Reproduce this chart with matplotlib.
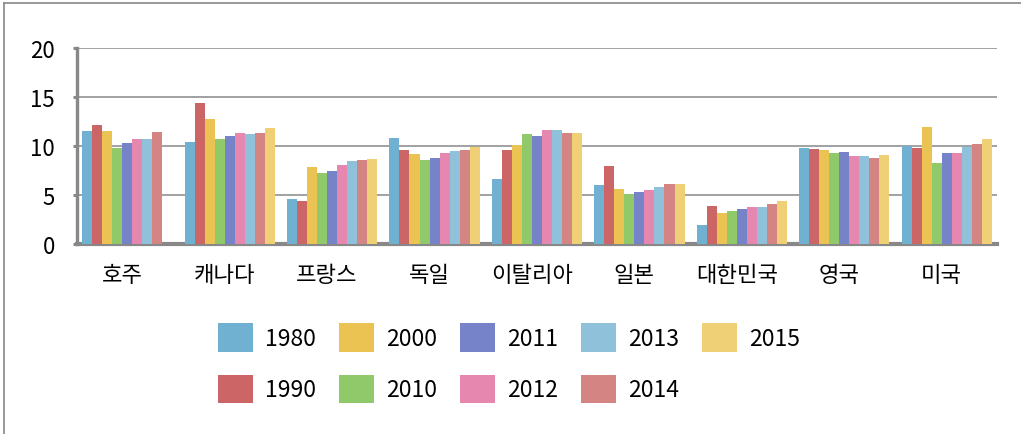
import matplotlib.pyplot as plt
import numpy as np
from matplotlib.lines import Line2D

plt.rcParams['font.family'] = ['Noto Sans CJK KR', 'DejaVu Sans']

countries = ['호주', '캐나다', '프랑스', '독일', '이탈리아', '일본', '대한민국', '영국', '미국']
years = ['1980', '1990', '2000', '2010', '2011', '2012', '2013', '2014', '2015']

# values per year, one per country (호주 has no 2015 value)
v1980 = [11.5, 10.4, 4.6, 10.8, 6.6, 6.0, 1.9, 9.8, 10.0]
v1990 = [12.1, 14.4, 4.4, 9.6, 9.6, 8.0, 3.9, 9.7, 9.8]
v2000 = [11.5, 12.8, 7.9, 9.2, 10.1, 5.6, 3.2, 9.6, 11.9]
v2010 = [9.8, 10.7, 7.2, 8.6, 11.2, 5.1, 3.4, 9.3, 8.3]
v2011 = [10.3, 11.0, 7.4, 8.8, 11.0, 5.3, 3.6, 9.4, 9.3]
v2012 = [10.7, 11.3, 8.1, 9.3, 11.6, 5.5, 3.8, 9.0, 9.3]
v2013 = [10.7, 11.2, 8.5, 9.5, 11.6, 5.8, 3.8, 9.0, 9.9]
v2014 = [11.4, 11.3, 8.6, 9.6, 11.3, 6.1, 4.1, 8.8, 10.2]
v2015 = [np.nan, 11.8, 8.7, 9.9, 11.3, 6.1, 4.4, 9.1, 10.7]
series = [v1980, v1990, v2000, v2010, v2011, v2012, v2013, v2014, v2015]

colors = ['#70B0D0', '#CC6666', '#EBC352', '#90C96A', '#7683C8',
          '#E687B0', '#90C1DA', '#D58484', '#EFD077']

grey = '#888888'

fig = plt.figure(figsize=(10.21, 4.35), dpi=100)
ax = fig.add_axes([0.0754, 0.4368, 0.9011, 0.4506])

x = np.arange(len(countries))
w = 0.0978
handles = []
for k, (vals, c) in enumerate(zip(series, colors)):
    pos = x - 4 * w + k * w
    b = ax.bar(pos, vals, width=w, color=c, zorder=3, label=years[k])
    handles.append(b)

ax.set_xlim(-0.49, 8.49)
ax.set_ylim(0, 20)
ax.set_yticks([0, 5, 10, 15, 20])
ax.yaxis.grid(True, color=grey, linewidth=1.1, zorder=0)
ax.set_axisbelow(True)

for s in ['top', 'right']:
    ax.spines[s].set_visible(False)
ax.spines['left'].set_color(grey)
ax.spines['left'].set_linewidth(2.4)
ax.spines['bottom'].set_color(grey)
ax.spines['bottom'].set_linewidth(3)
ax.spines['bottom'].set_zorder(2)

ax.tick_params(axis='y', length=3, width=2.2, color=grey, pad=13, labelsize=16)
ax.tick_params(axis='x', length=0, pad=14, labelsize=16)
ax.set_xticks(x - 0.05)
ax.set_xticklabels(countries)

# legend: 2 rows, filled column by column
leg = fig.legend(handles=handles, labels=years, loc='center', ncol=5,
                 bbox_to_anchor=(0.4985, 0.163), frameon=False, fontsize=16.5,
                 handlelength=1.53, handleheight=1.53, handletextpad=0.52,
                 columnspacing=1.0, labelspacing=1.0)

# partial frame (top and left edges)
fig.add_artist(Line2D([0.004, 1.0], [0.99, 0.99], color=grey, linewidth=1.2,
                      transform=fig.transFigure))
fig.add_artist(Line2D([0.004, 0.004], [0.0, 0.99], color=grey, linewidth=1.2,
                      transform=fig.transFigure))

plt.savefig('out.png', dpi=100)
